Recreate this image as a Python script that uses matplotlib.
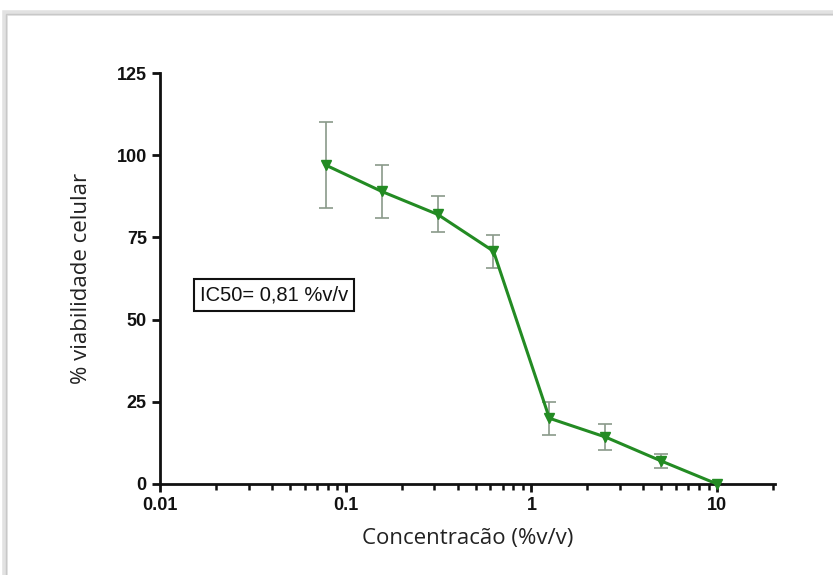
import matplotlib
matplotlib.use("Agg")
import matplotlib.pyplot as plt
from matplotlib.patches import Rectangle
from matplotlib.ticker import FixedLocator, LogLocator, NullFormatter

conc = [0.078, 0.156, 0.3125, 0.625, 1.25, 2.5, 5, 10]
viab = [97, 89, 82, 70.8, 20, 14.3, 7, 0]
err = [13, 8, 5.5, 5, 5, 4, 2, 0]
yticks = [0, 25, 50, 75, 100, 125]
xticks = [0.01, 0.1, 1, 10]
xticklabels = ["0.01", "0.1", "1", "10"]

fig = plt.figure(figsize=(8.33, 5.75), dpi=100)
fig.patch.set_facecolor("white")

# frame with soft shadow
fig.add_artist(Rectangle((5/833, -0.1), 1.2, 1 - 13/575 + 0.1, transform=fig.transFigure,
                         fill=False, edgecolor="#e2e2e2", linewidth=4, zorder=0))
fig.add_artist(Rectangle((6/833, -0.1), 1.2, 1 - 14/575 + 0.1, transform=fig.transFigure,
                         fill=False, edgecolor="#c8c8c8", linewidth=1, zorder=0))

ax = fig.add_axes([160/833, 1 - 484/575, (775 - 160)/833, (484 - 73)/575])
ax.set_xscale("log")
ax.set_xlim(0.01, 20.5)
ax.set_ylim(0, 125)

ax.errorbar(conc, viab, yerr=err, fmt="none", ecolor="#8a9a8a", elinewidth=1.2,
            capsize=5, capthick=1.2, zorder=2)
ax.plot(conc, viab, color="#238b23", linewidth=2.2, marker="v", markersize=7.5,
        markerfacecolor="#238b23", markeredgecolor="#238b23", zorder=3, clip_on=False)

for s in ["top", "right"]:
    ax.spines[s].set_visible(False)
for s in ["left", "bottom"]:
    ax.spines[s].set_linewidth(2)
    ax.spines[s].set_color("#111111")

ax.set_yticks(yticks)
ax.set_yticklabels([str(v) for v in yticks])
ax.xaxis.set_major_locator(FixedLocator(xticks))
ax.set_xticklabels(xticklabels)
ax.xaxis.set_minor_locator(LogLocator(base=10, subs=range(2, 10)))
ax.xaxis.set_minor_formatter(NullFormatter())
ax.tick_params(axis="both", which="major", direction="out", length=6, width=2,
               colors="#111111", labelsize=13)
ax.tick_params(axis="x", which="minor", direction="out", length=4, width=1.8, colors="#111111")
for lab in ax.get_xticklabels() + ax.get_yticklabels():
    lab.set_fontfamily("Liberation Sans")
    lab.set_fontweight("bold")

ax.set_xlabel("Concentracão (%v/v)", fontsize=16, family="Open Sans", labelpad=10, color="#222222")
ax.set_ylabel("% viabilidade celular", fontsize=16, family="Open Sans", labelpad=18, color="#222222")

ax.text(274/833, 1 - 295/575, "IC50= 0,81 %v/v", transform=fig.transFigure,
        ha="center", va="center", fontsize=14.5, family="Liberation Sans", color="#111111",
        bbox=dict(boxstyle="square,pad=0.3", facecolor="white", edgecolor="#111111", linewidth=1.5))

fig.savefig("out.png", dpi=100)
